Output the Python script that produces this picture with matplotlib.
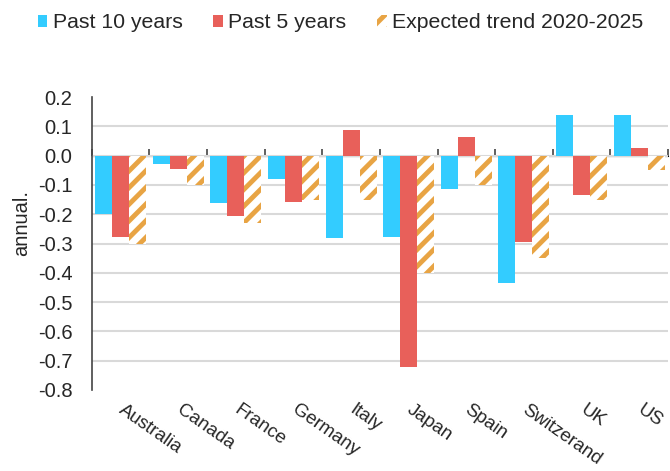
import matplotlib.pyplot as plt
import matplotlib.transforms as mtransforms
import numpy as np
from matplotlib.patches import Patch

plt.rcParams['font.family'] = ['Liberation Sans', 'DejaVu Sans']
plt.rcParams['hatch.linewidth'] = 3.5

countries = ['Australia', 'Canada', 'France', 'Germany', 'Italy',
             'Japan', 'Spain', 'Switzerand', 'UK', 'US']
past10 = [-0.20, -0.027, -0.163, -0.08, -0.28, -0.277, -0.115, -0.435, 0.14, 0.14]
past5 = [-0.277, -0.045, -0.205, -0.16, 0.088, -0.72, 0.065, -0.296, -0.133, 0.027]
expected = [-0.30, -0.10, -0.23, -0.15, -0.15, -0.40, -0.10, -0.35, -0.15, -0.048]
series_names = ['Past 10 years', 'Past 5 years', 'Expected trend 2020-2025']

blue = '#33CCFF'
red = '#E8605A'
orange = '#E8A444'
txt = '#262626'

fig = plt.figure(figsize=(6.7, 4.71), dpi=100)
ax = fig.add_axes([0.137, 0.172, 0.86, 0.622])

x = np.arange(len(countries))
w = 0.295
ax.bar(x - w, past10, w, color=blue, zorder=3)
ax.bar(x, past5, w, color=red, zorder=3)
ax.bar(x + w, expected, w, color='white', edgecolor=orange, hatch='//',
       linewidth=0, zorder=3)

ax.set_xlim(-0.5, len(countries) - 0.5)
ax.set_ylim(-0.8, 0.2)
yt = np.round(np.arange(-0.8, 0.21, 0.1), 1)
ax.set_yticks(yt)
ax.set_yticklabels([f'{v:.1f}'.replace('-0.0', '0.0') for v in yt],
                   fontsize=14.5, color=txt)
ax.tick_params(axis='y', length=0, pad=14)
ax.yaxis.grid(True, color='#D9D9D9', linewidth=1.5, zorder=0)
ax.get_ygridlines()[-1].set_visible(False)
ax.get_ygridlines()[0].set_visible(False)

ax.set_xticks(x)
ax.set_xticklabels(countries, rotation=-35, ha='left', va='top',
                   rotation_mode='anchor', fontsize=13.5, color=txt)
ax.tick_params(axis='x', length=0, pad=8)
shift = mtransforms.ScaledTranslation(5 / 100, 0, fig.dpi_scale_trans)
for lbl in ax.get_xticklabels():
    lbl.set_transform(lbl.get_transform() + shift)

for s in ['top', 'right', 'bottom']:
    ax.spines[s].set_visible(False)
ax.spines['left'].set_color('#444444')
ax.spines['left'].set_linewidth(1.2)

# zero line with group separators
sec = ax.secondary_xaxis(0.8)
sec.set_xticks(np.arange(len(countries) + 1) - 0.5)
sec.set_xticklabels([])
sec.tick_params(length=5, width=1.2, color='#444444', direction='out')
sec.spines['bottom'].set_color('#555555')
sec.spines['bottom'].set_linewidth(1.5)

ax.set_ylabel('annual.', fontsize=14.5, color=txt)
ax.yaxis.set_label_coords(-0.105, 0.57)

handles = [Patch(facecolor=blue, edgecolor='none'),
           Patch(facecolor=red, edgecolor='none'),
           Patch(facecolor='white', edgecolor=orange, hatch='//', linewidth=0)]
fig.legend(handles, series_names, loc='upper left', bbox_to_anchor=(0.028, 1.012),
           ncol=3, frameon=False, fontsize=15.3, handlelength=0.45,
           handleheight=0.45, handletextpad=0.25, columnspacing=1.45,
           labelcolor=txt)

plt.savefig('out.png', dpi=100)
